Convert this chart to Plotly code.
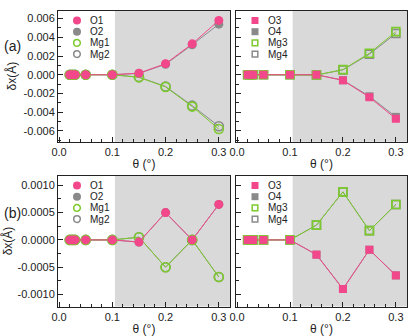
import plotly.graph_objects as go

theta = [0.02, 0.025, 0.03, 0.05, 0.1, 0.15, 0.2, 0.25, 0.3]

# Panel (a)
a_O1 = [0, 0, 0, 0, 0, 0.00017, 0.00118, 0.0033, 0.0058]
a_O2 = [0, 0, 0, 0, 0, 0.00014, 0.00112, 0.0032, 0.0054]
a_Mg1 = [0, 0, 0, 0, 0, -0.00028, -0.0013, -0.0034, -0.0058]
a_Mg2 = [0, 0, 0, 0, 0, -0.00025, -0.00125, -0.0033, -0.0055]
a_O3 = [0, 0, 0, 0, 0, 0.0, -0.0006, -0.0024, -0.0047]
a_O4 = [0, 0, 0, 0, 0, 0.0, -0.00058, -0.0023, -0.0045]
a_Mg3 = [0, 0, 0, 0, 0, -0.00003, 0.00055, 0.0023, 0.0046]
a_Mg4 = [0, 0, 0, 0, 0, -0.00003, 0.00052, 0.0022, 0.0044]

# Panel (b)
b_O1 = [0, 0, 0, 0, 0, -0.00004, 0.0005, 0.0, 0.00065]
b_O2 = [0, 0, 0, 0, 0, -0.00004, 0.0005, 0.0, 0.00065]
b_Mg1 = [0, 0, 0, 0, 0, 0.00005, -0.0005, 0.0, -0.00068]
b_Mg2 = [0, 0, 0, 0, 0, 0.00005, -0.0005, 0.0, -0.00068]
b_O3 = [0, 0, 0, 0, 0, -0.00027, -0.0009, -0.00018, -0.00065]
b_O4 = [0, 0, 0, 0, 0, -0.00027, -0.0009, -0.00018, -0.00065]
b_Mg3 = [0, 0, 0, 0, 0, 0.00027, 0.00088, 0.00017, 0.00065]
b_Mg4 = [0, 0, 0, 0, 0, 0.00027, 0.00088, 0.00017, 0.00065]

x_ticks = [0.0, 0.1, 0.2, 0.3]
x_ticktext = ["0.0", "0.1", "0.2", "0.3"]
ya_ticks = [-0.006, -0.004, -0.002, 0.0, 0.002, 0.004, 0.006]
ya_ticktext = ["-0.006", "-0.004", "-0.002", "0.000", "0.002", "0.004", "0.006"]
yb_ticks = [-0.001, -0.0005, 0.0, 0.0005, 0.001]
yb_ticktext = ["-0.0010", "-0.0005", "0.0000", "0.0005", "0.0010"]

names_left = ["O1", "O2", "Mg1", "Mg2"]
names_right = ["O3", "O4", "Mg3", "Mg4"]

PINK = "#f2478a"
GRAY = "#8a8a8a"
GREEN = "#7ccb2c"
SHADE = "#d9d9d9"
FONT = "Liberation Sans, Arial, sans-serif"

fig = go.Figure()

def add_series(y, xa, ya, color, symbol, filled, msize):
    if filled:
        marker = dict(symbol=symbol, size=msize, color=color, line=dict(width=0))
    else:
        marker = dict(symbol=symbol + "-open", size=msize - 1, color=color, line=dict(width=1.6, color=color))
    fig.add_trace(go.Scatter(x=theta, y=y, xaxis=xa, yaxis=ya, mode="lines+markers",
                             line=dict(color=color, width=1), marker=marker,
                             showlegend=False, cliponaxis=False))

# panel a left
add_series(a_O2, "x", "y", GRAY, "circle", True, 9)
add_series(a_Mg2, "x", "y", GRAY, "circle", False, 10)
add_series(a_Mg1, "x", "y", GREEN, "circle", False, 10)
add_series(a_O1, "x", "y", PINK, "circle", True, 9)
# panel a right
add_series(a_O4, "x2", "y2", GRAY, "square", True, 8)
add_series(a_Mg4, "x2", "y2", GRAY, "square", False, 9)
add_series(a_Mg3, "x2", "y2", GREEN, "square", False, 9)
add_series(a_O3, "x2", "y2", PINK, "square", True, 8)
# panel b left
add_series(b_O2, "x3", "y3", GRAY, "circle", True, 9)
add_series(b_Mg2, "x3", "y3", GRAY, "circle", False, 10)
add_series(b_Mg1, "x3", "y3", GREEN, "circle", False, 10)
add_series(b_O1, "x3", "y3", PINK, "circle", True, 9)
# panel b right
add_series(b_O4, "x4", "y4", GRAY, "square", True, 8)
add_series(b_Mg4, "x4", "y4", GRAY, "square", False, 9)
add_series(b_Mg3, "x4", "y4", GREEN, "square", False, 9)
add_series(b_O3, "x4", "y4", PINK, "square", True, 8)

W, H = 415, 336
xl = [58 / W, 230 / W]
xr = [236 / W, 407 / W]
ya_dom = [1 - 141.7 / H, 1 - 10.5 / H]
yb_dom = [1 - 306.5 / H, 1 - 175.5 / H]

xr_range = [-0.002, 0.321]
ya_range = [-0.00715, 0.00686]
yb_range = [-0.00122, 0.00118]

common_axis = dict(showline=True, mirror=True, linecolor="#222", linewidth=1,
                   ticks="inside", ticklen=5, tickcolor="#222", showgrid=False,
                   zeroline=False, tickfont=dict(family=FONT, size=11, color="#222"),
                   automargin=False)

def xaxis(domain, anchor):
    return dict(common_axis, domain=domain, anchor=anchor, range=xr_range,
                tickvals=x_ticks, ticktext=x_ticktext,
                minor=dict(ticks="inside", ticklen=3, dtick=0.02, tick0=0, tickcolor="#222"),
                title=dict(text="θ (°)", font=dict(family=FONT, size=12, color="#222"), standoff=2))

def yaxis(domain, anchor, rng, tv, tt, mdt, labels):
    d = dict(common_axis, domain=domain, anchor=anchor, range=rng,
             tickvals=tv, ticktext=tt if labels else [""] * len(tt),
             minor=dict(ticks="inside", ticklen=3, dtick=mdt, tick0=0, tickcolor="#222"))
    if labels:
        d["title"] = dict(text="δx(Å)", font=dict(family=FONT, size=12, color="#222"), standoff=4)
    return d

fig.update_layout(
    width=W, height=H, margin=dict(l=0, r=0, t=0, b=0),
    paper_bgcolor="white", plot_bgcolor="white",
    xaxis=xaxis(xl, "y"), yaxis=yaxis(ya_dom, "x", ya_range, ya_ticks, ya_ticktext, 0.001, True),
    xaxis2=xaxis(xr, "y2"), yaxis2=yaxis(ya_dom, "x2", ya_range, ya_ticks, ya_ticktext, 0.001, False),
    xaxis3=xaxis(xl, "y3"), yaxis3=yaxis(yb_dom, "x3", yb_range, yb_ticks, yb_ticktext, 0.00025, True),
    xaxis4=xaxis(xr, "y4"), yaxis4=yaxis(yb_dom, "x4", yb_range, yb_ticks, yb_ticktext, 0.00025, False),
    showlegend=False,
)

shapes = []
annotations = []
panels = [("x", "y", names_left, "circle"), ("x2", "y2", names_right, "square"),
          ("x3", "y3", names_left, "circle"), ("x4", "y4", names_right, "square")]
leg_colors = [PINK, GRAY, GREEN, GRAY]
leg_filled = [True, True, False, False]
for xa, ya, names, sym in panels:
    # shaded region
    shapes.append(dict(type="rect", xref=xa, yref=ya + " domain", x0=0.105, x1=xr_range[1],
                       y0=0, y1=1, fillcolor=SHADE, line=dict(width=0), layer="below"))
    # legend
    for i, (nm, col, filled) in enumerate(zip(names, leg_colors, leg_filled)):
        yc = -10 - 11.2 * i
        half = 4 if sym == "circle" else 3.5
        if not filled:
            half -= 0.7
        shapes.append(dict(type="circle" if sym == "circle" else "rect",
                           xref=xa + " domain", yref=ya + " domain",
                           xsizemode="pixel", ysizemode="pixel", xanchor=0, yanchor=1,
                           x0=19 - half, x1=19 + half, y0=yc - half, y1=yc + half,
                           fillcolor=col if filled else "rgba(0,0,0,0)",
                           line=dict(color=col, width=0 if filled else 1.5)))
        annotations.append(dict(text=nm, xref=xa + " domain", yref=ya + " domain",
                                x=29.5 / 171, y=1 + yc / 131, xanchor="left", yanchor="middle",
                                showarrow=False, font=dict(family=FONT, size=10, color="#222")))

annotations.append(dict(text="(a)", xref="paper", yref="paper", x=2 / W, y=1 - 46 / H,
                        xanchor="left", yanchor="middle", showarrow=False,
                        font=dict(family=FONT, size=14, color="#222")))
annotations.append(dict(text="(b)", xref="paper", yref="paper", x=2 / W, y=1 - 213 / H,
                        xanchor="left", yanchor="middle", showarrow=False,
                        font=dict(family=FONT, size=14, color="#222")))

fig.update_layout(shapes=shapes, annotations=annotations)
fig.write_html("out.html", config={"displayModeBar": False},
               post_script="document.body.style.margin='0';document.body.style.overflow='hidden';")
